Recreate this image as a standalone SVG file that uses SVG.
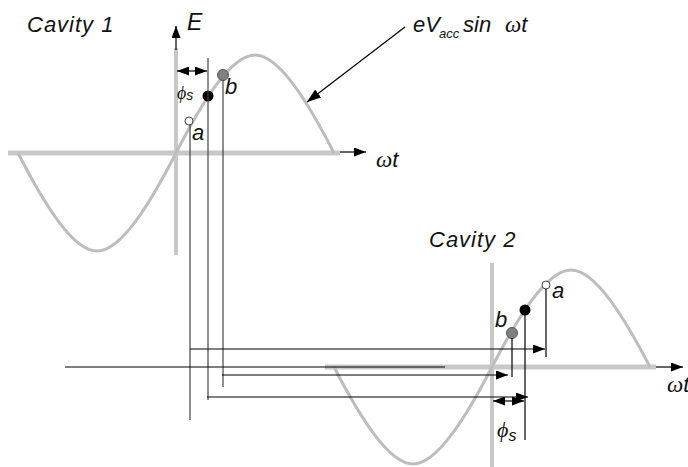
<svg xmlns="http://www.w3.org/2000/svg" width="688" height="467" viewBox="0 0 688 467">
<style>
.axis{stroke:#c8c8c8;fill:none}
.wave{stroke:#bdbdbd;stroke-width:3;fill:none}
.ln{stroke:#000;stroke-width:1.2;fill:none}
.vl{stroke:#444;stroke-width:1.2;fill:none}
.t{font-family:"Liberation Sans",Arial,sans-serif;font-style:italic;fill:#111}
.g{font-family:"Liberation Serif","DejaVu Serif","Times New Roman",serif;font-style:italic;fill:#111}
</style>
<defs>
<marker id="ah" viewBox="0 0 12 9" refX="12" refY="4.5" markerWidth="12" markerHeight="9" markerUnits="userSpaceOnUse" orient="auto-start-reverse">
<path d="M0,0 L12,4.5 L0,9 z" fill="#000"/>
</marker>
<marker id="ahL" viewBox="0 0 14 10" refX="14" refY="5" markerWidth="14" markerHeight="10" markerUnits="userSpaceOnUse" orient="auto">
<path d="M0,0 L14,5 L0,10 z" fill="#000"/>
</marker>
</defs>
<rect width="688" height="467" fill="#fff"/>

<g id="cavity1">
<line class="axis" x1="8" y1="153" x2="340" y2="153" stroke-width="5"/>
<line class="axis" x1="176" y1="48" x2="176" y2="255" stroke-width="4"/>
<path class="wave" d="M18,153 C43.76,203.2 72.76,251 97,251 S150.24,203.2 176,153 S230.76,55 255,55 S308.24,102.8 334,153"/>
<text class="t" x="27" y="32" font-size="22" letter-spacing="1">Cavity  1</text>
</g>

<g id="cavity2">
<line class="axis" x1="325" y1="367" x2="656" y2="367" stroke-width="5"/>
<line class="axis" x1="492" y1="263" x2="492" y2="467" stroke-width="4"/>
<path class="wave" d="M334,367 C359.76,416.7 388.76,464 413,464 S466.24,416.7 492,367 S546.76,270 571,270 S624.24,317.3 650,367"/>
<text class="t" x="429" y="247" font-size="22" letter-spacing="1">Cavity  2</text>
</g>

<g id="axis-labels">
<text class="t" x="187" y="30" font-size="23">E</text>
<text class="g" x="376" y="167" font-size="23">ω<tspan class="t" font-size="22">t</tspan></text>
<text class="g" x="667" y="392" font-size="23">ω<tspan class="t" font-size="22">t</tspan></text>
<g id="formula">
<text class="t" x="413" y="32" font-size="22">eV</text>
<text class="t" x="439" y="38" font-size="13">acc</text>
<text class="t" x="463" y="32" font-size="22">sin</text>
<text class="g" x="505" y="32" font-size="23">ω<tspan class="t" font-size="22">t</tspan></text>
</g>
</g>

<g id="particles1">
<circle id="a1" cx="189" cy="121" r="4" fill="#fff" stroke="#444" stroke-width="1"/>
<circle id="s1" cx="208" cy="96" r="5.5" fill="#000"/>
<circle id="b1" cx="223" cy="75" r="5.5" fill="#808080" stroke="#555" stroke-width="1"/>
<text class="t" x="192" y="140" font-size="22">a</text>
<text class="t" x="225" y="94" font-size="22">b</text>
<text class="g" x="177" y="99" font-size="18">ϕ<tspan class="t" font-size="14" dy="1">s</tspan></text>
</g>

<g id="particles2">
<circle id="a2" cx="546" cy="285" r="4" fill="#fff" stroke="#444" stroke-width="1"/>
<circle id="s2" cx="525" cy="310" r="5.5" fill="#000"/>
<circle id="b2" cx="512" cy="333" r="5.5" fill="#808080" stroke="#555" stroke-width="1"/>
<text class="t" x="552" y="298" font-size="22">a</text>
<text class="t" x="495" y="327" font-size="22">b</text>
<text class="g" x="497" y="437" font-size="22">ϕ<tspan class="t" font-size="16" dy="4">s</tspan></text>
</g>

<g id="connectors">
<line class="ln" x1="176" y1="50" x2="176" y2="26" marker-end="url(#ah)"/>
<line class="ln" x1="340" y1="152" x2="366" y2="152" marker-end="url(#ah)"/>
<line class="ln" x1="656" y1="367" x2="683" y2="367" marker-end="url(#ah)"/>
<line class="ln" x1="405" y1="27" x2="307" y2="102" marker-end="url(#ahL)"/>
<line class="ln" x1="177" y1="71" x2="207" y2="71" marker-start="url(#ah)" marker-end="url(#ah)"/>
<line class="ln" x1="493" y1="401" x2="524" y2="401" marker-start="url(#ah)" marker-end="url(#ah)"/>
<line class="vl" x1="190" y1="125" x2="190" y2="420"/>
<line class="vl" x1="208" y1="58" x2="208" y2="400"/>
<line class="vl" x1="223" y1="80" x2="223" y2="387"/>
<line class="ln" x1="546" y1="289" x2="546" y2="357"/>
<line class="ln" x1="525" y1="315" x2="525" y2="440"/>
<line class="ln" x1="512" y1="338" x2="512" y2="377"/>
<line class="ln" x1="190" y1="349" x2="545" y2="349" marker-end="url(#ah)"/>
<line class="ln" x1="65" y1="367" x2="445" y2="367"/>
<line class="ln" x1="222" y1="375" x2="508" y2="375" marker-end="url(#ah)"/>
<line class="ln" x1="207" y1="397" x2="528" y2="397" marker-end="url(#ah)"/>
</g>
</svg>
